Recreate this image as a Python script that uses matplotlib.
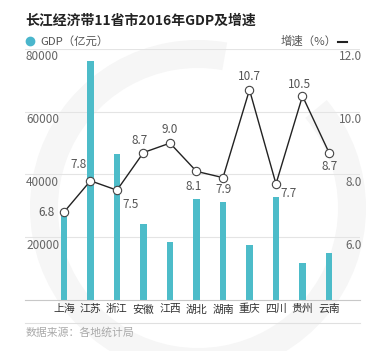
import matplotlib
matplotlib.use("Agg")
import matplotlib.pyplot as plt
from matplotlib.patches import Wedge
from matplotlib.lines import Line2D
import numpy as np

plt.rcParams['font.family'] = ['Noto Sans CJK SC', 'DejaVu Sans']

# data
provinces = ['上海', '江苏', '浙江', '安徽', '江西', '湖北', '湖南', '重庆', '四川', '贵州', '云南']
gdp = [28179, 76086, 46485, 24118, 18364, 32297, 31245, 17559, 32680, 11734, 14870]
growth = [6.8, 7.8, 7.5, 8.7, 9.0, 8.1, 7.9, 10.7, 7.7, 10.5, 8.7]
gdp_ticks = [20000, 40000, 60000, 80000]
growth_ticks = [6.0, 8.0, 10.0, 12.0]

# label offsets (pixels) for the growth values
label_offsets = [(-17, 0), (-12, 16), (14, -14), (-4, 12), (0, 14), (-3, -15),
                 (1, -12), (0, 13), (13, -10), (-3, 12), (1, -14)]

bar_color = '#4dbcc9'
tick_color = '#666666'
W, H = 386, 351

fig = plt.figure(figsize=(W / 100, H / 100), dpi=100)
fig.patch.set_facecolor('white')

# faint watermark ring behind everything
ring = Wedge((198 / 100, (H - 208) / 100), 1.68, 80, 400, width=0.28,
             transform=fig.dpi_scale_trans, facecolor='#f6f6f6', edgecolor='none')
ring.set_zorder(-5)
fig.add_artist(ring)

ax = fig.add_axes([25 / W, (H - 300) / H, (360 - 25) / W, (300 - 49) / H])
ax.set_facecolor('none')
x = np.arange(len(provinces))
ax.bar(x, gdp, width=0.23, color=bar_color, zorder=2)
ax.set_xlim(-1.47, len(provinces) - 1 + 1.17)
ax.set_ylim(0, 80000)
ax.set_yticks(gdp_ticks)
ax.tick_params(axis='y', length=0, labelleft=False)
ax.set_xticks(x)
ax.set_xticklabels(provinces)
ax.tick_params(axis='x', length=0, pad=3, labelsize=7.8, labelcolor='#333333')
ax.grid(axis='y', color='#e4e4e4', linewidth=0.8, zorder=0)
for s in ['top', 'left', 'right']:
    ax.spines[s].set_visible(False)
ax.spines['bottom'].set_color('#c8c8c8')
ax.spines['bottom'].set_linewidth(0.8)

# left tick labels sit just under their gridlines
for v in gdp_ticks:
    ax.annotate(str(v), (0, v), xycoords=('axes fraction', 'data'), xytext=(1, -8),
                textcoords='offset pixels', ha='left', va='center',
                fontsize=8.5, color=tick_color)

ax2 = ax.twinx()
ax2.set_ylim(4, 12)
ax2.plot(x, growth, color='#222222', linewidth=1.0, marker='o', markersize=6,
         markerfacecolor='white', markeredgecolor='#444444', markeredgewidth=0.8, zorder=3)
ax2.set_yticks(growth_ticks)
ax2.tick_params(axis='y', length=0, labelright=False)
for s in ax2.spines.values():
    s.set_visible(False)

for v in growth_ticks:
    ax2.annotate(f'{v:.1f}', (1, v), xycoords=('axes fraction', 'data'), xytext=(2, -8),
                 textcoords='offset pixels', ha='right', va='center',
                 fontsize=8.5, color=tick_color)

for xi, v, (dx, dy) in zip(x, growth, label_offsets):
    ax2.annotate(f'{v}', (xi, v), xytext=(dx, dy), textcoords='offset pixels',
                 ha='center', va='center', fontsize=8.5, color='#555555')

# title and legend row
fig.text(25 / W, 1 - 20 / H, '长江经济带11省市2016年GDP及增速', fontsize=10,
         fontweight='bold', color='#222222', ha='left', va='center')
fig.add_artist(Line2D([30 / W], [1 - 41 / H], marker='o', markersize=6,
                      color='#4ab6cc', transform=fig.transFigure))
fig.text(40 / W, 1 - 41 / H, 'GDP（亿元）', fontsize=8.2, color='#555555',
         ha='left', va='center')
fig.text(337 / W, 1 - 41 / H, '增速（%）', fontsize=8.2, color='#555555',
         ha='right', va='center')
fig.add_artist(Line2D([338 / W, 347 / W], [1 - 42 / H, 1 - 42 / H], color='#222222',
                      linewidth=1.5, transform=fig.transFigure))

# footer
fig.add_artist(Line2D([25 / W, 360 / W], [1 - 323 / H, 1 - 323 / H], color='#e0e0e0',
                      linewidth=0.8, transform=fig.transFigure))
fig.text(26 / W, 1 - 333 / H, '数据来源：各地统计局', fontsize=7.8, color='#aaaaaa',
         ha='left', va='center')

fig.savefig('out.png', dpi=100)
